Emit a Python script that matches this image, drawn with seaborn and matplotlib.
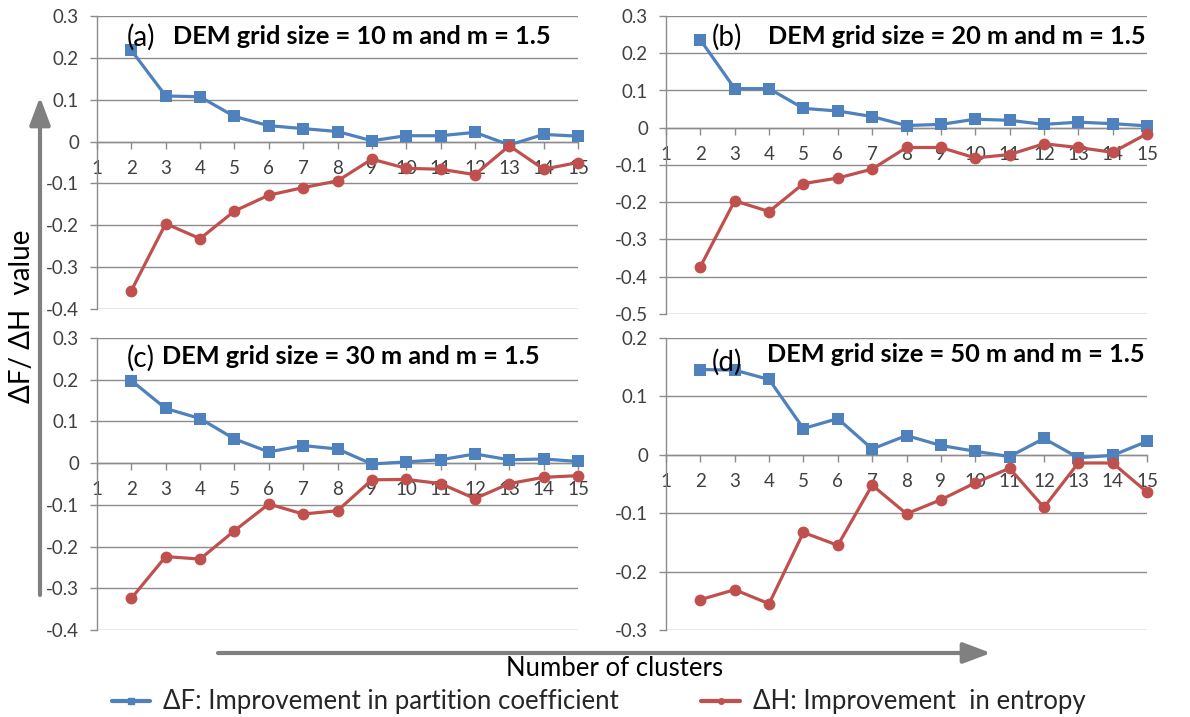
import matplotlib
matplotlib.use('Agg')
import matplotlib.pyplot as plt
import seaborn as sns
import pandas as pd
from matplotlib.lines import Line2D
from matplotlib.patches import FancyArrowPatch, ArrowStyle
from matplotlib.ticker import FuncFormatter, MultipleLocator

# ---------------- data ----------------
clusters = list(range(2, 16))
x_ticks = list(range(1, 16))

dF_a = [0.218, 0.109, 0.107, 0.060, 0.038, 0.031, 0.024, 0.002, 0.014, 0.014, 0.022, -0.008, 0.017, 0.013]
dH_a = [-0.356, -0.196, -0.232, -0.166, -0.128, -0.110, -0.094, -0.042, -0.064, -0.066, -0.079, -0.010, -0.066, -0.050]

dF_b = [0.236, 0.105, 0.105, 0.052, 0.045, 0.030, 0.006, 0.009, 0.023, 0.020, 0.009, 0.015, 0.011, 0.005]
dH_b = [-0.373, -0.196, -0.225, -0.150, -0.135, -0.111, -0.053, -0.053, -0.081, -0.072, -0.043, -0.053, -0.066, -0.016]

dF_c = [0.198, 0.131, 0.107, 0.058, 0.027, 0.042, 0.034, -0.002, 0.003, 0.008, 0.022, 0.008, 0.010, 0.004]
dH_c = [-0.324, -0.224, -0.230, -0.162, -0.098, -0.122, -0.114, -0.040, -0.039, -0.049, -0.085, -0.049, -0.034, -0.030]

dF_d = [0.146, 0.145, 0.129, 0.045, 0.062, 0.010, 0.033, 0.016, 0.006, -0.003, 0.028, -0.005, -0.001, 0.023]
dH_d = [-0.248, -0.231, -0.255, -0.133, -0.155, -0.052, -0.101, -0.077, -0.048, -0.023, -0.090, -0.014, -0.014, -0.064]

panel_tags = ['(a)', '(b)', '(c)', '(d)']
panel_titles = ['DEM grid size = 10 m and m = 1.5',
                'DEM grid size = 20 m and m = 1.5',
                'DEM grid size = 30 m and m = 1.5',
                'DEM grid size = 50 m and m = 1.5']
y_limits = [(-0.4, 0.3), (-0.5, 0.3), (-0.4, 0.3), (-0.3, 0.2)]

legend_labels = ['ΔF: Improvement in partition coefficient', 'ΔH: Improvement  in entropy']
y_label = 'ΔF/ ΔH  value'
x_label = 'Number of clusters'

# ---------------- style ----------------
sns.set_style('white')
plt.rcParams['font.family'] = ['Lato', 'DejaVu Sans']
plt.rcParams['axes.unicode_minus'] = False

BLUE = '#4F81BD'
RED = '#C0504D'
GRID = '#8C8C8C'
TXT = '#404040'
ARROW = '#808080'

W, H = 1190, 717
fig = plt.figure(figsize=(W / 100, H / 100), dpi=100)


def fx(px):
    return px / W


def fy(py):
    return 1 - py / H


# pixel boxes: left, top, right, bottom
boxes = [(97, 16, 578, 309), (666, 16, 1147, 314), (97, 338, 578, 630), (666, 338, 1147, 630)]
tag_pos = [(127, 37), (712, 37), (127, 358), (712, 362)]
title_pos = [(173, 37), (768, 37), (162, 356), (767, 354)]

series = [(dF_a, dH_a), (dF_b, dH_b), (dF_c, dH_c), (dF_d, dH_d)]

fmt = FuncFormatter(lambda v, p: '0' if abs(v) < 1e-9 else f'{v:.1f}')

for i in range(4):
    l, t, r, b = boxes[i]
    ax = fig.add_axes([fx(l), fy(b), fx(r) - fx(l), fy(t) - fy(b)])
    dF, dH = series[i]
    df = pd.DataFrame({'clusters': clusters, 'dF': dF, 'dH': dH})
    sns.lineplot(data=df, x='clusters', y='dF', ax=ax, color=BLUE, marker='s',
                 markersize=8, markeredgewidth=0, linewidth=2.3, clip_on=False, zorder=3)
    sns.lineplot(data=df, x='clusters', y='dH', ax=ax, color=RED, marker='o',
                 markersize=8.5, markeredgewidth=0, linewidth=2.3, clip_on=False, zorder=4)
    ax.set_xlim(1, 15)
    ax.set_ylim(*y_limits[i])
    ax.set_xticks(x_ticks)
    ax.set_xticklabels([str(v) for v in x_ticks])
    ax.yaxis.set_major_locator(MultipleLocator(0.1))
    ax.yaxis.set_major_formatter(fmt)
    ax.grid(axis='y', color=GRID, linewidth=1.0)
    ax.grid(axis='x', visible=False)
    ax.set_axisbelow(True)
    for s in ['top', 'right']:
        ax.spines[s].set_visible(False)
    ax.spines['left'].set_color(GRID)
    ax.spines['left'].set_linewidth(1.0)
    ax.spines['bottom'].set_position(('data', 0))
    ax.spines['bottom'].set_color(GRID)
    ax.spines['bottom'].set_linewidth(1.0)
    ax.tick_params(axis='x', direction='out', length=5, width=1, color=GRID,
                   labelsize=13.5, labelcolor=TXT, pad=8, bottom=True)
    ax.tick_params(axis='y', direction='out', length=5, width=1, color=GRID,
                   labelsize=13.5, labelcolor=TXT, pad=8, left=True)
    ax.set_xlabel('')
    ax.set_ylabel('')
    if ax.get_legend() is not None:
        ax.get_legend().remove()

    fig.text(fx(tag_pos[i][0]), fy(tag_pos[i][1]), panel_tags[i], fontsize=20,
             ha='left', va='center', color='black')
    fig.text(fx(title_pos[i][0]), fy(title_pos[i][1]), panel_titles[i], fontsize=18.3,
             fontweight='bold', ha='left', va='center', color='black')

# axis label and arrows
fig.text(fx(22), fy(316), y_label, rotation=90, fontsize=20, ha='center', va='center', color='black')
fig.text(fx(615), fy(668), x_label, fontsize=18.5, ha='center', va='center', color='black')

style = ArrowStyle('-|>', head_length=1.2, head_width=0.45)
va = FancyArrowPatch((40 / 100, (H - 595) / 100), (40 / 100, (H - 97) / 100),
                     transform=fig.dpi_scale_trans, arrowstyle=style, mutation_scale=14,
                     color=ARROW, linewidth=3.0, shrinkA=0, shrinkB=0)
ha_ = FancyArrowPatch((218 / 100, (H - 653) / 100), (991 / 100, (H - 653) / 100),
                      transform=fig.dpi_scale_trans, arrowstyle=style, mutation_scale=14,
                      color=ARROW, linewidth=3.0, shrinkA=0, shrinkB=0)
fig.add_artist(va)
fig.add_artist(ha_)

handles = [Line2D([], [], color=BLUE, marker='s', markersize=4, linewidth=3),
           Line2D([], [], color=RED, marker='o', markersize=4, linewidth=3)]
fig.legend(handles=handles, labels=legend_labels, loc='center', bbox_to_anchor=(0.503, fy(702)),
           ncol=2, frameon=False, fontsize=18.5, handlelength=1.5, handletextpad=0.5,
           columnspacing=3.2, borderpad=0.0)

fig.savefig('out.png', dpi=100)
